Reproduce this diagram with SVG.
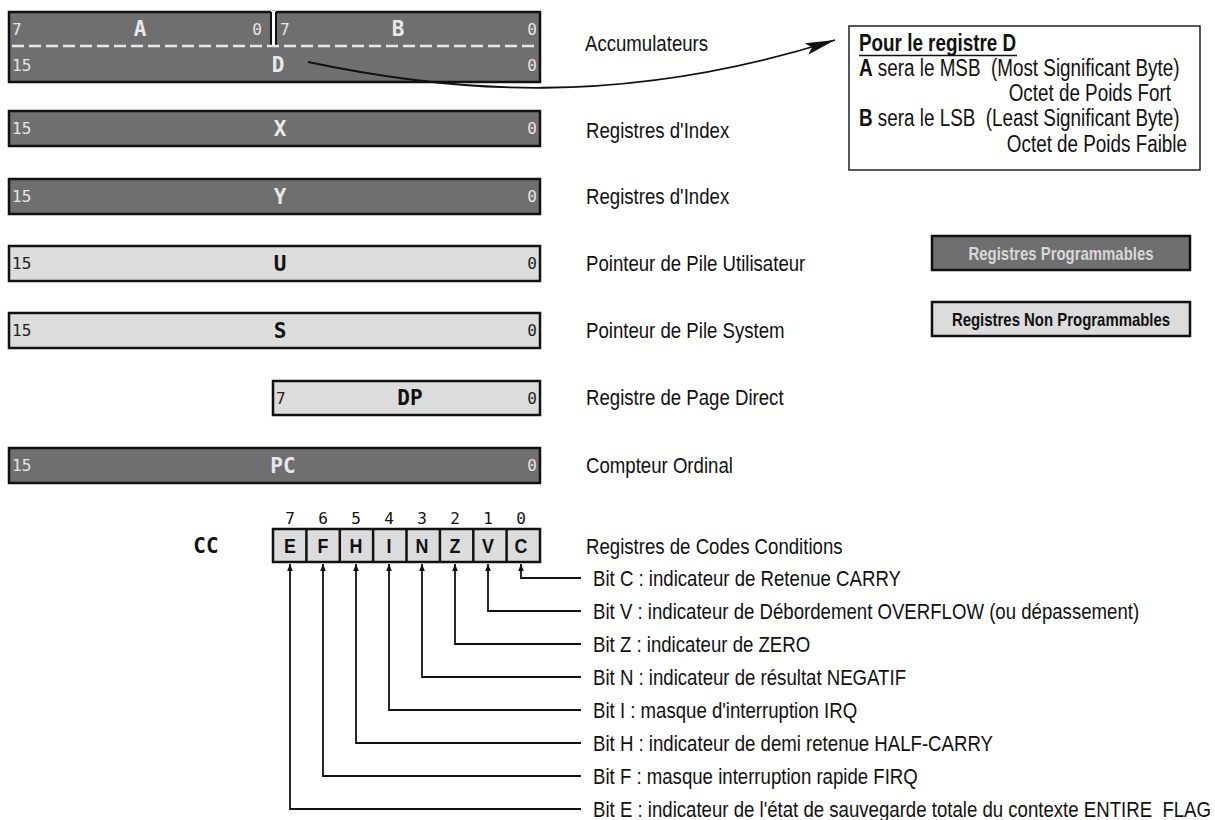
<svg xmlns="http://www.w3.org/2000/svg" width="1215" height="820" viewBox="0 0 1215 820">
<style>
.dark{fill:#6f6f6f;stroke:#111;stroke-width:2.5}
.light{fill:#dcdcdc;stroke:#111;stroke-width:2.5}
.num{font-family:"DejaVu Sans Mono","Liberation Mono",monospace;font-size:16px}
.numd{fill:#e6e6e6}
.numl{fill:#222}
.lab{font-family:"DejaVu Sans Mono","Liberation Mono",monospace;font-weight:bold;font-size:21px;text-anchor:middle}
.labd{fill:#e8e8e8}
.labl{fill:#111}
.side{font-family:"Liberation Sans",Arial,sans-serif;font-size:23px;fill:#111}
.info{font-family:"Liberation Sans",Arial,sans-serif;font-size:23px;fill:#111}
.leg{font-family:"Liberation Sans",Arial,sans-serif;font-weight:bold;font-size:18px;text-anchor:middle}
.conn{fill:none;stroke:#111;stroke-width:1.8}
.bitn{font-family:"DejaVu Sans Mono","Liberation Mono",monospace;font-size:16px;fill:#111;text-anchor:middle}
.cell{font-family:"Liberation Sans",Arial,sans-serif;font-weight:bold;font-size:21px;fill:#111;text-anchor:middle}
</style>
<defs>
<marker id="ah" viewBox="0 0 10 10" refX="10" refY="5" markerWidth="7" markerHeight="7" orient="auto" markerUnits="userSpaceOnUse">
<path d="M0,1 L10,5 L0,9 z" fill="#111"/>
</marker>
<marker id="big" viewBox="0 0 30 12" refX="30" refY="6" markerWidth="30" markerHeight="12" orient="auto" markerUnits="userSpaceOnUse">
<path d="M0,0 L30,6 L0,12 L6,6 z" fill="#111"/>
</marker>
</defs>
<rect width="1215" height="820" fill="#fff"/>

<g id="reg-D">
<rect class="dark" x="9" y="12" width="531" height="70"/>
<line x1="273.5" y1="11" x2="273.5" y2="46" stroke="#fff" stroke-width="5"/>
<line x1="271" y1="12" x2="271" y2="46" stroke="#111" stroke-width="2"/>
<line x1="276" y1="12" x2="276" y2="46" stroke="#111" stroke-width="2"/>
<line x1="12" y1="46" x2="538" y2="46" stroke="#e8e8e8" stroke-width="2.5" stroke-dasharray="12,5"/>
<text class="num numd" x="12" y="35">7</text>
<text class="lab labd" x="140" y="36">A</text>
<text class="num numd" x="262" y="35" text-anchor="end">0</text>
<text class="num numd" x="280" y="35">7</text>
<text class="lab labd" x="398" y="36">B</text>
<text class="num numd" x="537" y="35" text-anchor="end">0</text>
<text class="num numd" x="12" y="71">15</text>
<text class="lab labd" x="278" y="72">D</text>
<text class="num numd" x="537" y="71" text-anchor="end">0</text>
<text class="side" transform="translate(585,51) scale(0.81,1)">Accumulateurs</text>
</g>

<g id="reg-X">
<rect class="dark" x="9" y="111" width="531" height="35"/>
<text class="num numd" x="12" y="134">15</text>
<text class="lab labd" x="280" y="136">X</text>
<text class="num numd" x="537" y="134" text-anchor="end">0</text>
<text class="side" transform="translate(586,138) scale(0.81,1)">Registres d'Index</text>
</g>

<g id="reg-Y">
<rect class="dark" x="9" y="179" width="531" height="35"/>
<text class="num numd" x="12" y="202">15</text>
<text class="lab labd" x="280" y="204">Y</text>
<text class="num numd" x="537" y="202" text-anchor="end">0</text>
<text class="side" transform="translate(586,204) scale(0.81,1)">Registres d'Index</text>
</g>

<g id="reg-U">
<rect class="light" x="9" y="246" width="531" height="35"/>
<text class="num numl" x="12" y="269">15</text>
<text class="lab labl" x="280" y="271">U</text>
<text class="num numl" x="537" y="269" text-anchor="end">0</text>
<text class="side" transform="translate(586,271) scale(0.81,1)">Pointeur de Pile Utilisateur</text>
</g>

<g id="reg-S">
<rect class="light" x="9" y="313" width="531" height="35"/>
<text class="num numl" x="12" y="336">15</text>
<text class="lab labl" x="280" y="338">S</text>
<text class="num numl" x="537" y="336" text-anchor="end">0</text>
<text class="side" transform="translate(586,338) scale(0.81,1)">Pointeur de Pile System</text>
</g>

<g id="reg-DP">
<rect class="light" x="273" y="381" width="267" height="34"/>
<text class="num numl" x="276" y="404">7</text>
<text class="lab labl" x="410" y="405">DP</text>
<text class="num numl" x="537" y="404" text-anchor="end">0</text>
<text class="side" transform="translate(586,405) scale(0.81,1)">Registre de Page Direct</text>
</g>

<g id="reg-PC">
<rect class="dark" x="9" y="448" width="531" height="35"/>
<text class="num numd" x="12" y="471">15</text>
<text class="lab labd" x="283" y="473">PC</text>
<text class="num numd" x="537" y="471" text-anchor="end">0</text>
<text class="side" transform="translate(586,473) scale(0.81,1)">Compteur Ordinal</text>
</g>

<g id="reg-CC">
<text class="lab labl" x="206" y="553">CC</text>
<rect class="light" x="273" y="529" width="267" height="33"/>
<g stroke="#111" stroke-width="2.5">
<line x1="306.4" y1="529" x2="306.4" y2="562"/>
<line x1="339.8" y1="529" x2="339.8" y2="562"/>
<line x1="373.1" y1="529" x2="373.1" y2="562"/>
<line x1="406.5" y1="529" x2="406.5" y2="562"/>
<line x1="439.9" y1="529" x2="439.9" y2="562"/>
<line x1="473.3" y1="529" x2="473.3" y2="562"/>
<line x1="506.6" y1="529" x2="506.6" y2="562"/>
</g>
<text class="bitn" x="290" y="524">7</text>
<text class="bitn" x="323" y="524">6</text>
<text class="bitn" x="356" y="524">5</text>
<text class="bitn" x="389" y="524">4</text>
<text class="bitn" x="422" y="524">3</text>
<text class="bitn" x="455" y="524">2</text>
<text class="bitn" x="488" y="524">1</text>
<text class="bitn" x="521" y="524">0</text>
<text class="cell" transform="translate(290,553) scale(0.85,1)">E</text>
<text class="cell" transform="translate(323,553) scale(0.85,1)">F</text>
<text class="cell" transform="translate(356,553) scale(0.85,1)">H</text>
<text class="cell" transform="translate(389,553) scale(0.85,1)">I</text>
<text class="cell" transform="translate(422,553) scale(0.85,1)">N</text>
<text class="cell" transform="translate(455,553) scale(0.85,1)">Z</text>
<text class="cell" transform="translate(488,553) scale(0.85,1)">V</text>
<text class="cell" transform="translate(521,553) scale(0.85,1)">C</text>
<text class="side" transform="translate(586,554) scale(0.81,1)">Registres de Codes Conditions</text>
</g>

<g id="info-box">
<rect x="849" y="26" width="351" height="144" fill="#fff" stroke="#222" stroke-width="1.5"/>
<text class="info" font-weight="bold" transform="translate(859,51) scale(0.82,1)">Pour le registre D</text>
<line x1="859" y1="55.5" x2="1017" y2="55.5" stroke="#111" stroke-width="1.5"/>
<text class="info" xml:space="preserve" transform="translate(859,76) scale(0.82,1)"><tspan font-weight="bold">A</tspan> sera le MSB  (Most Significant Byte)</text>
<text class="info" text-anchor="end" transform="translate(1171,101) scale(0.82,1)">Octet de Poids Fort</text>
<text class="info" xml:space="preserve" transform="translate(859,126) scale(0.82,1)"><tspan font-weight="bold">B</tspan> sera le LSB  (Least Significant Byte)</text>
<text class="info" text-anchor="end" transform="translate(1187,152) scale(0.82,1)">Octet de Poids Faible</text>
</g>

<g id="legend-prog">
<rect class="dark" x="932" y="236" width="258" height="34"/>
<text class="leg" fill="#d8d8d8" transform="translate(1061,259.5) scale(0.83,1)">Registres Programmables</text>
</g>
<g id="legend-nonprog">
<rect class="light" x="932" y="302" width="258" height="34"/>
<text class="leg" fill="#111" transform="translate(1061,325.5) scale(0.83,1)">Registres Non Programmables</text>
</g>

<g id="connectors">
<path class="conn" d="M308,62 C450,92 620,108 835,40" marker-end="url(#big)"/>
<path class="conn" d="M581,578 H521 V564" marker-end="url(#ah)"/>
<path class="conn" d="M581,611 H488 V564" marker-end="url(#ah)"/>
<path class="conn" d="M581,644 H455 V564" marker-end="url(#ah)"/>
<path class="conn" d="M581,677 H422 V564" marker-end="url(#ah)"/>
<path class="conn" d="M581,710 H389 V564" marker-end="url(#ah)"/>
<path class="conn" d="M581,743 H356 V564" marker-end="url(#ah)"/>
<path class="conn" d="M581,776 H323 V564" marker-end="url(#ah)"/>
<path class="conn" d="M581,809 H290 V564" marker-end="url(#ah)"/>
</g>

<g id="bit-labels">
<text class="side" transform="translate(593,586) scale(0.81,1)">Bit C : indicateur de Retenue CARRY</text>
<text class="side" transform="translate(593,619) scale(0.81,1)">Bit V : indicateur de Débordement OVERFLOW (ou dépassement)</text>
<text class="side" transform="translate(593,652) scale(0.81,1)">Bit Z : indicateur de ZERO</text>
<text class="side" transform="translate(593,685) scale(0.81,1)">Bit N : indicateur de résultat NEGATIF</text>
<text class="side" transform="translate(593,718) scale(0.81,1)">Bit I : masque d'interruption IRQ</text>
<text class="side" transform="translate(593,751) scale(0.81,1)">Bit H : indicateur de demi retenue HALF-CARRY</text>
<text class="side" transform="translate(593,784) scale(0.81,1)">Bit F : masque interruption rapide FIRQ</text>
<text class="side" xml:space="preserve" transform="translate(593,817) scale(0.81,1)">Bit E : indicateur de l'état de sauvegarde totale du contexte ENTIRE  FLAG</text>
</g>
</svg>
